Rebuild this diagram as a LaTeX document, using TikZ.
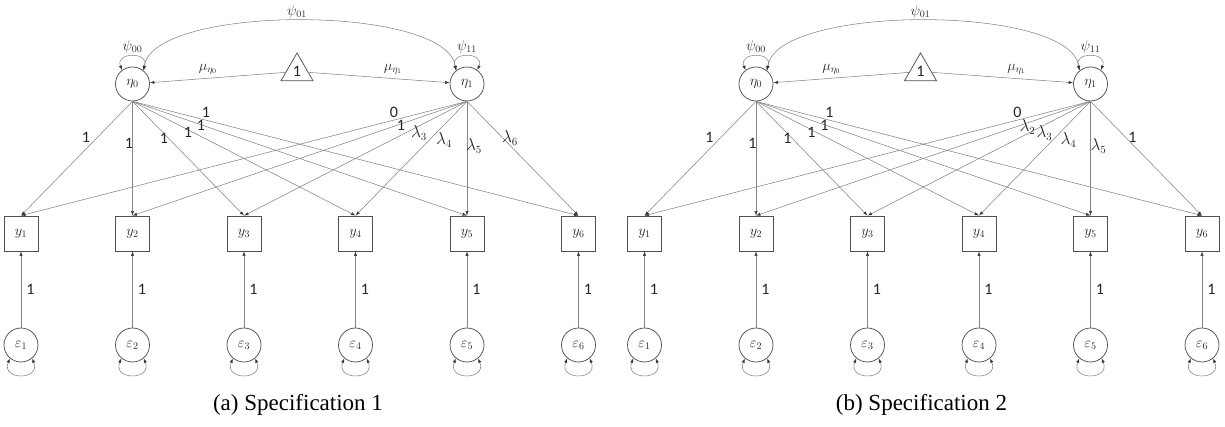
\documentclass[tikz,border=0pt]{standalone}
\usepackage{fontspec}
\setmainfont{Liberation Serif}
\newfontfamily\lblfont{Carlito}
\usetikzlibrary{arrows.meta,shapes.geometric}
\definecolor{linegray}{HTML}{858585}
\definecolor{nodegray}{HTML}{505050}
\definecolor{tipgray}{HTML}{3A3A3A}
\definecolor{txtgray}{HTML}{262626}
\tikzset{
  mfont/.style={font=\fontsize{14.4}{17}\selectfont},
  latent/.style={circle, draw=nodegray, line width=0.75pt, minimum size=34pt, inner sep=0pt, text=txtgray, mfont},
  manifest/.style={rectangle, draw=nodegray, line width=0.75pt, minimum width=34pt, minimum height=35pt, inner sep=0pt, text=txtgray, mfont},
  constant/.style={regular polygon, regular polygon sides=3, draw=nodegray, line width=0.75pt, minimum size=37pt, inner sep=0pt, text=txtgray, font=\lblfont\fontsize{16}{18}\selectfont},
  tipx/.tip={Latex[length=4.5pt,width=3.2pt,color=tipgray]},
  regpath/.style={draw=linegray, line width=0.55pt, -tipx},
  covpath/.style={draw=linegray, line width=0.55pt, tipx-tipx},
  coef/.style={inner sep=0pt, text=txtgray, font=\lblfont\fontsize{16}{18}\selectfont},
  mlabel/.style={inner sep=0pt, text=txtgray, mfont},
  captext/.style={inner sep=0pt, font=\fontsize{23}{27}\selectfont},
}
% #1 prefix, #2 x offset, #3 eta1 loading labels, #4 caption
\newcommand\sempanel[4]{%
\begin{scope}[xshift=#2pt]
  \node[latent] (#1eta0) at (132.5,84) {$\eta_0$};
  \node[latent] (#1eta1) at (467,84) {$\eta_1$};
  \node[constant] (#1tri) at (297,71.5) {1};
  \foreach \i/\xx in {1/21,2/132.5,3/244,4/355.5,5/467,6/578.5}{
    \node[manifest] (#1y\i) at (\xx,233.5) {$y_{\i}$};
    \node[latent] (#1e\i) at (\xx,345) {$\varepsilon_{\i}$};
  }
  \draw[covpath] (#1eta0.127) .. controls +(112:20pt) and +(68:20pt) .. (#1eta0.53);
  \draw[covpath] (#1eta1.127) .. controls +(112:20pt) and +(68:20pt) .. (#1eta1.53);
  \draw[covpath] (#1eta0.50) .. controls (152,4) and (447.5,4) .. (#1eta1.130);
  \node[mlabel] (#1lpsi00) at (132.5,47) {$\psi_{00}$};
  \node[mlabel] (#1lpsi11) at (467,47) {$\psi_{11}$};
  \node[mlabel] (#1lpsi01) at (297,12) {$\psi_{01}$};
  \draw[regpath] (#1tri) -- (#1eta0);
  \draw[regpath] (#1tri) -- (#1eta1);
  \node[mlabel] (#1lmu0) at (208,69) {$\mu_{\eta_0}$};
  \node[mlabel] (#1lmu1) at (393,69) {$\mu_{\eta_1}$};
  \foreach \i in {1,...,6}{
    \draw[regpath] (#1eta0.south) -- (#1y\i.north);
    \draw[regpath] (#1eta1.south) -- (#1y\i.north);
    \draw[regpath] (#1e\i) -- node[coef, right=5pt] {1} (#1y\i);
    \draw[covpath] (#1e\i.-130) .. controls +(-112:24pt) and +(-68:24pt) .. (#1e\i.-50);
  }
  \foreach \lx/\ly in {86/137,129/143,164/138,188/132,201/125,206/112}{
    \node[coef] at (\lx,\ly) {1};
  }
  \foreach \t/\lx/\ly in {#3}{
    \node[coef] at (\lx,\ly) {\t};
  }
  \node[captext] (#1cap) at (298,405) {#4};
\end{scope}}
\begin{document}
\begin{tikzpicture}[x=1pt,y=-1pt]
\useasboundingbox (0,0) rectangle (1225,427);
\sempanel{a}{0}{0/394/112, 1/401/125, $\lambda_3$/419/133, $\lambda_4$/444/140, $\lambda_5$/474/146, $\lambda_6$/510/138}{(a) Specification 1}
\sempanel{b}{623.5}{0/394/112, $\lambda_2$/404/127, $\lambda_3$/421/133, $\lambda_4$/445/140, $\lambda_5$/475/146, 1/509/137}{(b) Specification 2}
\end{tikzpicture}
\end{document}
